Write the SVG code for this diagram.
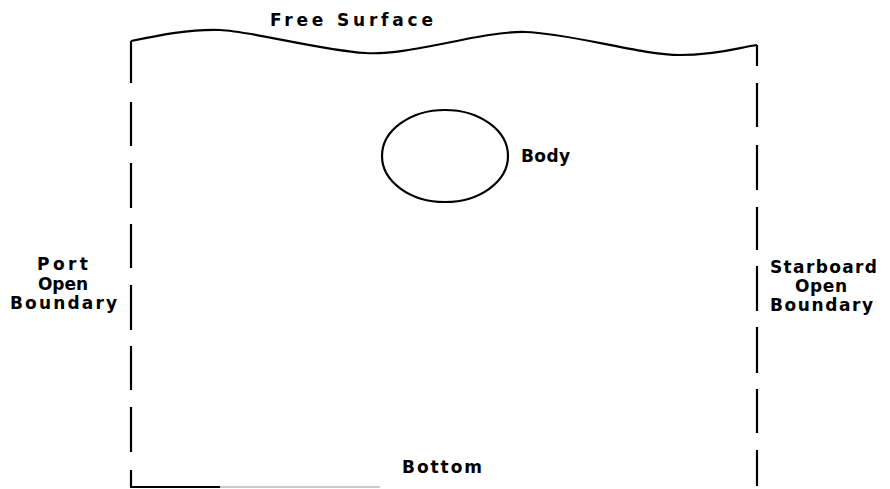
<svg xmlns="http://www.w3.org/2000/svg" width="890" height="489" viewBox="0 0 890 489">
<style>
.ln{fill:none;stroke:#000;stroke-width:2.2;stroke-linecap:butt}
.lbl{font-family:"DejaVu Sans","Liberation Sans",sans-serif;font-weight:bold;font-size:17px;fill:#000}
</style>
<rect width="890" height="489" fill="#fff"/>
<g id="connectors">
<path id="free-surface-line" class="ln" d="M131,41 C160,35 190,29 220,30 S320,50 365,53 S480,31 525,32 S640,55 680,55 S740,47 757,45"/>
<path id="port-boundary" class="ln" d="M131,41 V83 M131,102 V146 M131,163 V208 M131,224 V268 M131,285 V330 M131,346 V390 M131,407 V452 M131,470 V487"/>
<path id="starboard-boundary" class="ln" d="M757,45 V66 M757,83 V127 M757,145 V190 M757,207 V250 M757,266 V311 M757,327 V373 M757,389 V433 M757,450 V486"/>
<path id="bottom-line" class="ln" d="M130,487 H220"/>
<path id="bottom-line-faint" fill="none" stroke="#bbb" stroke-width="1.5" d="M220,487 H380"/>
</g>
<g id="free-surface"><text class="lbl" x="270" y="26" textLength="163" lengthAdjust="spacing">Free Surface</text></g>
<g id="body">
<ellipse cx="445" cy="156" rx="63" ry="46" class="ln"/>
<text class="lbl" x="521" y="162" textLength="49" lengthAdjust="spacing">Body</text>
</g>
<g id="port">
<text class="lbl" x="37" y="270" textLength="51" lengthAdjust="spacing">Port</text>
<text class="lbl" x="38" y="290" textLength="50" lengthAdjust="spacing">Open</text>
<text class="lbl" x="10" y="309" textLength="107" lengthAdjust="spacing">Boundary</text>
</g>
<g id="starboard">
<text class="lbl" x="770" y="273" textLength="107" lengthAdjust="spacing">Starboard</text>
<text class="lbl" x="795" y="292" textLength="52" lengthAdjust="spacing">Open</text>
<text class="lbl" x="770" y="311" textLength="103" lengthAdjust="spacing">Boundary</text>
</g>
<g id="bottom"><text class="lbl" x="402" y="473" textLength="80" lengthAdjust="spacing">Bottom</text></g>
</svg>
